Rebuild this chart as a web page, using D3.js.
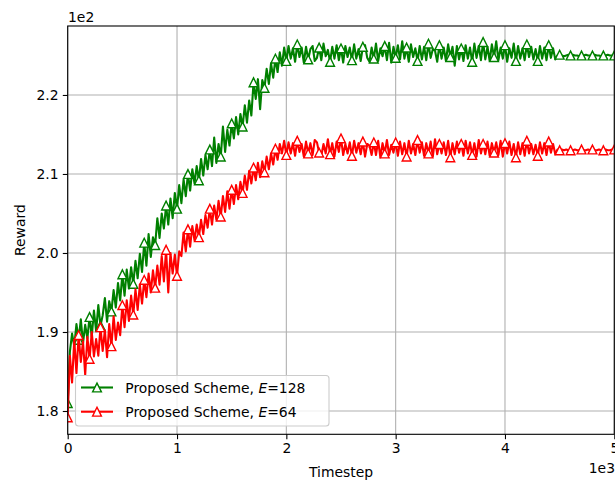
<!DOCTYPE html>
<html>
<head>
<meta charset="utf-8">
<script src="https://cdn.jsdelivr.net/npm/d3@7"></script>
<style>
  html, body { margin: 0; padding: 0; background: #fff; }
  svg { display: block; font-family: "DejaVu Sans", sans-serif; }
</style>
</head>
<body>
<svg id="chart" width="615" height="482"></svg>
<script>
// ---------------- data ----------------
const stepSize = 20; // timesteps between samples
const seriesNames = ["Proposed Scheme, E=128", "Proposed Scheme, E=64"];
const rewardE128 = [
  181.0, 187.5, 189.8, 188.2, 191.0, 189.0, 191.6, 188.6, 190.9, 189.2,
  191.9, 189.4, 192.7, 190.1, 193.4, 190.8, 192.1, 194.3, 191.3, 193.9,
  192.6, 195.3, 193.1, 196.2, 194.0, 197.3, 194.6, 197.9, 195.5, 198.2,
  196.1, 199.0, 196.8, 199.9, 197.6, 201.3, 198.4, 202.4, 199.5, 202.0,
  201.0, 204.4, 201.9, 205.0, 203.1, 206.0, 203.6, 206.9, 204.4, 207.6,
  205.6, 208.6, 206.3, 209.3, 207.2, 210.0, 207.9, 210.6, 208.8, 211.0,
  209.2, 211.9, 209.8, 212.4, 210.6, 213.1, 211.0, 214.6, 211.4, 213.8,
  212.2, 216.0, 212.8, 215.6, 213.6, 216.4, 214.5, 217.2, 215.0, 217.6,
  216.0, 218.7, 216.5, 219.3, 217.4, 221.6, 219.5, 222.0, 218.2, 221.9,
  220.9, 223.3, 221.4, 224.0, 222.2, 224.6, 222.9, 225.4, 223.7, 226.0,
  224.3, 226.2, 224.6, 225.9, 224.2, 226.4, 224.8, 226.0, 224.1, 226.1,
  224.5, 225.8, 226.2, 224.3, 224.7, 226.0, 224.4, 226.5, 224.9, 225.7,
  224.2, 226.1, 224.6, 226.3, 224.4, 225.9, 224.1, 226.2, 224.8, 226.0,
  224.4, 226.4, 224.6, 225.8, 224.3, 226.1, 226.3, 224.7, 224.2, 226.0,
  224.6, 226.5, 224.3, 225.9, 224.9, 226.2, 224.4, 226.6, 224.1, 226.1,
  224.7, 226.3, 224.5, 226.8, 224.6, 226.0, 224.2, 226.4, 224.8, 225.9,
  224.3, 226.2, 224.5, 226.1, 224.4, 226.5, 224.7, 225.8, 225.6, 224.2,
  226.3, 224.6, 226.0, 224.3, 226.4, 224.8, 226.1, 223.7, 226.2, 224.5,
  225.9, 224.3, 226.3, 224.6, 226.0, 224.2, 226.5, 224.7, 226.2, 224.4,
  226.7, 224.5, 226.1, 224.3, 226.4, 224.8, 226.8, 224.4, 226.0, 224.6,
  226.3, 224.2, 225.9, 224.7, 226.5, 224.3, 226.2, 224.6, 225.9, 224.4,
  226.4, 224.8, 226.1, 224.5, 225.8, 224.3, 226.2, 224.6, 226.0, 224.4,
  226.3, 224.7, 225.9, 224.5, 225.0, 225.1, 225.0, 224.9, 225.0, 225.1,
  225.0, 225.1, 225.0, 225.0, 224.9, 225.0, 225.0, 225.1, 225.0, 225.0,
  225.0, 225.1, 225.0, 225.0, 224.9, 225.0, 225.0, 225.1, 225.0, 225.0,
  225.0
];
const rewardE64 = [
  179.2, 187.0, 183.6, 189.0, 184.8, 189.6, 186.2, 188.8, 184.6, 189.4,
  186.6, 190.0, 186.9, 189.1, 187.0, 190.6, 187.6, 190.2, 186.8, 191.0,
  188.2, 192.0, 189.0, 191.2, 189.6, 193.4, 190.6, 194.0, 191.4, 194.6,
  192.2, 195.4, 192.8, 196.0, 193.6, 196.6, 194.4, 197.4, 195.0, 197.8,
  195.6, 198.4, 196.0, 199.6, 196.4, 200.4, 195.0, 200.0, 197.4, 199.8,
  197.1, 200.2, 199.6, 202.6, 200.2, 203.0, 200.8, 203.4, 201.6, 203.6,
  202.0, 204.2, 202.4, 204.8, 203.2, 205.6, 203.6, 206.0, 204.2, 206.6,
  204.6, 207.2, 205.2, 207.8, 205.6, 208.0, 206.2, 208.6, 206.8, 209.0,
  207.6, 209.8, 208.0, 210.4, 208.8, 210.8, 209.2, 211.4, 209.6, 211.6,
  210.2, 212.2, 210.6, 212.6, 211.2, 213.2, 211.8, 213.8, 212.6, 214.2,
  212.4, 214.0, 212.6, 213.9, 212.3, 214.2, 212.8, 213.8, 212.2, 214.1,
  212.6, 213.9, 212.4, 214.3, 214.0, 212.7, 212.3, 213.8, 212.6, 214.4,
  212.5, 213.9, 212.2, 214.1, 212.8, 214.5, 212.4, 213.8, 212.6, 214.0,
  212.3, 214.2, 212.7, 213.9, 212.5, 214.1, 212.2, 213.8, 213.6, 212.4,
  214.0, 212.4, 214.2, 212.1, 213.9, 212.6, 214.3, 212.4, 213.7, 212.7,
  214.0, 212.3, 214.1, 212.5, 213.9, 212.2, 214.2, 212.6, 213.8, 212.4,
  214.3, 212.7, 214.0, 212.3, 213.9, 212.6, 214.1, 212.2, 214.4, 212.5,
  213.8, 212.6, 214.0, 212.4, 214.2, 212.1, 213.9, 212.5, 214.1, 212.7,
  213.8, 212.3, 214.2, 212.6, 214.0, 212.4, 213.9, 212.2, 214.3, 212.6,
  213.8, 212.5, 214.1, 212.3, 213.9, 212.7, 214.0, 212.4, 214.2, 212.2,
  213.9, 212.6, 214.1, 212.4, 213.8, 212.1, 214.0, 212.5, 213.9, 212.3,
  214.2, 212.6, 213.8, 212.5, 213.7, 212.3, 214.0, 212.6, 213.9, 212.4,
  214.1, 212.7, 213.8, 212.5, 213.1, 213.0, 213.1, 213.0, 213.1, 213.0,
  213.0, 213.0, 213.1, 213.0, 213.0, 213.1, 213.0, 213.0, 213.1, 213.0,
  213.1, 213.0, 213.0, 213.1, 213.0, 213.0, 213.1, 213.0, 213.0, 213.1,
  213.1
];
const seriesColors = ["#008000", "#ff0000"];
const xTickValues = [0, 1000, 2000, 3000, 4000, 5000];
const xTickLabels = ["0", "1", "2", "3", "4", "5"];
const yTickValues = [180, 190, 200, 210, 220];
const yTickLabels = ["1.8", "1.9", "2.0", "2.1", "2.2"];

// ---------------- layout ----------------
const L = 67.7, R = 614.3, T = 26, B = 434.3;
const FS = 13.9;
const markEvery = 5;

const svg = d3.select("#chart");
const x = d3.scaleLinear().domain([0, 5000]).range([L, R]);
const y = d3.scaleLinear().domain([177.05, 228.73]).range([B, T]);

svg.append("defs").append("clipPath").attr("id", "plotclip")
  .append("rect").attr("x", L).attr("y", T).attr("width", R - L).attr("height", B - T);

// grid
const grid = svg.append("g");
grid.selectAll(".gx").data(xTickValues).join("line")
  .attr("x1", d => x(d)).attr("x2", d => x(d)).attr("y1", T).attr("y2", B)
  .attr("stroke", "#b0b0b0").attr("stroke-width", 1.1);
grid.selectAll(".gy").data(yTickValues).join("line")
  .attr("x1", L).attr("x2", R).attr("y1", d => y(d)).attr("y2", d => y(d))
  .attr("stroke", "#b0b0b0").attr("stroke-width", 1.1);

// series
const allSeries = [rewardE128, rewardE64];
const line = d3.line().x((d, i) => x(i * stepSize)).y(d => y(d));
const tri = (cx, cy, s) => `M${cx},${cy - s / 2}L${cx - s / 2},${cy + s / 2}L${cx + s / 2},${cy + s / 2}Z`;
const plot = svg.append("g").attr("clip-path", "url(#plotclip)");
allSeries.forEach((vals, k) => {
  const g = plot.append("g");
  g.append("path").datum(vals).attr("d", line)
    .attr("fill", "none").attr("stroke", seriesColors[k]).attr("stroke-width", 2.1)
    .attr("stroke-linejoin", "round").attr("stroke-linecap", "square");
  const marks = vals.map((v, i) => ({ v, i })).filter(d => d.i % markEvery === 0);
  g.selectAll("path.m").data(marks).join("path").attr("class", "m")
    .attr("d", d => tri(x(d.i * stepSize), y(d.v), 8.8))
    .attr("fill", "#fff").attr("stroke", seriesColors[k]).attr("stroke-width", 1.4);
});

// axes
const xAxis = d3.axisBottom(x).tickValues(xTickValues).tickFormat((d, i) => xTickLabels[i])
  .tickSize(4.9).tickPadding(4.2);
const yAxis = d3.axisLeft(y).tickValues(yTickValues).tickFormat((d, i) => yTickLabels[i])
  .tickSize(4.9).tickPadding(4.2);
const gx = svg.append("g").attr("transform", `translate(0,${B})`).call(xAxis);
const gy = svg.append("g").attr("transform", `translate(${L},0)`).call(yAxis);
[gx, gy].forEach(g => {
  g.select(".domain").remove();
  g.selectAll(".tick line").attr("stroke", "#000").attr("stroke-width", 1.1);
  g.selectAll(".tick text").attr("font-size", FS).attr("fill", "#000")
    .attr("font-family", "DejaVu Sans, sans-serif");
});

// spines
svg.append("rect").attr("x", L).attr("y", T).attr("width", R - L).attr("height", B - T)
  .attr("fill", "none").attr("stroke", "#000").attr("stroke-width", 1.1);

// labels
svg.append("text").attr("x", (L + R) / 2).attr("y", 477).attr("text-anchor", "middle")
  .attr("font-size", FS).text("Timestep");
svg.append("text").attr("transform", `translate(25,${(T + B) / 2}) rotate(-90)`)
  .attr("text-anchor", "middle").attr("font-size", FS).text("Reward");
svg.append("text").attr("x", 68).attr("y", 22).attr("font-size", FS).text("1e2");
svg.append("text").attr("x", 615).attr("y", 473).attr("text-anchor", "end")
  .attr("font-size", FS).text("1e3");

// legend
const lg = svg.append("g");
lg.append("rect").attr("x", 75.5).attr("y", 375.5).attr("width", 253.5).attr("height", 50.5)
  .attr("rx", 3).attr("fill", "#fff").attr("fill-opacity", 0.8)
  .attr("stroke", "#cccccc").attr("stroke-width", 1.1);
const legendRows = [387.5, 411.7];
seriesNames.forEach((name, k) => {
  const cy = legendRows[k];
  lg.append("line").attr("x1", 81).attr("x2", 113).attr("y1", cy).attr("y2", cy)
    .attr("stroke", seriesColors[k]).attr("stroke-width", 2.1);
  lg.append("path").attr("d", tri(97, cy, 8.8)).attr("fill", "#fff")
    .attr("stroke", seriesColors[k]).attr("stroke-width", 1.4);
  const parts = name.split("E=");
  const t = lg.append("text").attr("x", 125.3).attr("y", cy + 5).attr("font-size", FS);
  t.append("tspan").text(parts[0]);
  t.append("tspan").attr("font-style", "italic").text("E");
  t.append("tspan").text("=" + parts[1]);
});
</script>
</body>
</html>
